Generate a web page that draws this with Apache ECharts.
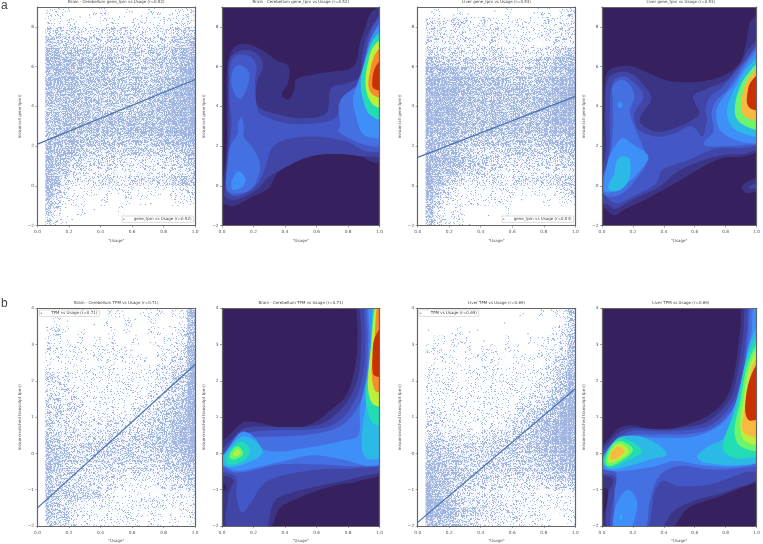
<!DOCTYPE html>
<html><head><meta charset="utf-8">
<style>html,body{margin:0;padding:0;background:#fff}#c{width:763px;height:544px}</style>
<script src="https://cdn.jsdelivr.net/npm/echarts@6/dist/echarts.min.js"></script>
</head><body><div id="c"></div>
<script>
// Fitted lines: [usage, value]
const lineBrainGene=[[0,2.1],[1,5.35]];
const lineLiverGene=[[0,1.43],[1,4.5]];
const lineBrainTpm=[[0,-1.5],[1,2.45]];
const lineLiverTpm=[[0,-1.9],[1,1.78]];

// Estimated point density per cell (0-9), top row first. The dense clouds cannot be read point by point.
const densityBrainGene=["01110001100100110112","01111010111011111122","03433222232322222344","05544443334333333456","06655544443443444567","06766655554444455578","07776666655555555689","07776666555555566789","06666665555555667789","06666665555555667889","05666665555556667889","05666666666666667789","05666666666667777889","06666665555555566778","06665544443444444456","07664433333222223345","07653322221212222234","07632222322333333455","07421111111111111122","06311100100101000111","04200100001000000000","03110000000000000000"];
const densityLiverGene=["00100100000100011012","02222221211111112112","02322212122111112122","02222222121212111222","03333322233222222345","05544443433333344567","08777665555444555678","08887776666555566788","08888776666666667889","08888776666666677899","08888766666666677889","08887766666666667888","08777665666666667778","08776655555555556666","07665443333444444455","08777654433333333344","08766544332222222223","08653322222233333344","07532111111111111123","07421111111100001011","06211100000100000000","05321100000000000000"];
const densityBrainTpm=["00000100011001110118","00100000100100100016","01210100010100110127","01110101010010101127","02111111111100011138","01111101111111011238","01111111111111122349","03221111111111122449","02221111111111123449","03222111111111223459","03322211111112234469","03432211111122345569","04332222222223445679","04333222233333455689","05433333333344455689","06544444444444455679","07654444444444445568","06543333333333334456","05443333322222223345","05444332221111122234","06555544211111111122","05433211211112221112","05442211111111111011","05432111111110110101"];
const densityLiverTpm=["00000000000000010115","00000000000000000014","00000100000000000124","00111110000100111125","01101010110110011126","00111011111011111236","01111111111111112347","01111011111111112358","01111111111111122458","01111111111111223568","01111111111112234679","02211111111123455689","02221111111234567799","02322221222344567899","03433332333444567899","05544443444555567789","06655544444444556788","07765444444444455677","07665544433333344556","08775443322222222334","08764432222222211112","09875433322222111111","09886544332221211011","08765433222121111001"];

// Sparse points that can be made out individually
const sparseBrainGene=[[.06,8.7],[.09,8.55],[.12,8.75],[.16,8.6],[.2,8.8],[.27,8.5],[.33,8.6],[.43,8.7],[.52,8.5],[.6,8.75],[.66,8.55],[.73,8.65],[.84,8.6],[.9,8.75],[.95,8.5],[.98,8.8],[.24,7.9],[.41,7.8],[.57,7.7],[.76,7.9],[.18,-1.1],[.3,-1.4],[.44,-.8],[.56,-.6],[.72,-.9],[.88,-.5],[.97,-.7],[.12,-1.8],[.22,-1.7],[.36,-1.2]];
const sparseLiverGene=[[.09,8.75],[.23,8.6],[.32,8.65],[.49,8.8],[.74,8.7],[.79,8.6],[.91,8.75],[.96,8.55],[.99,8.8],[.06,8.2],[.14,8.25],[.28,8.2],[.42,8.1],[.6,8.25],[.81,8.2],[.93,8.1],[.27,-1.2],[.38,-.9],[.52,-.8],[.66,-.7],[.8,-.8],[.92,-.6],[.98,-.4],[.2,-1.9],[.33,-1.95],[.45,-1.5]];
const sparseBrainTpm=[[.09,3.45],[.13,3.4],[.19,3.65],[.27,3.2],[.36,3.55],[.46,3.9],[.55,3.4],[.62,3.7],[.71,3.75],[.79,3.9],[.84,3.5],[.9,3.6],[.12,2.9],[.23,2.8],[.32,2.6],[.41,2.95],[.5,2.7],[.6,2.85],[.68,2.55],[.75,3.05],[.87,2.95],[.95,3.3],[.33,-1.75],[.57,-1.8],[.73,-1.65],[.84,-1.9],[.91,-1.4],[.97,-1.75]];
const sparseLiverTpm=[[.06,2.8],[.07,3.4],[.22,3.3],[.24,3.27],[.33,3.35],[.38,3.4],[.55,3.6],[.65,3.8],[.67,3.85],[.85,3.95],[.94,3.55],[.97,3.7],[.99,3.9],[.11,2.9],[.15,2.85],[.33,2.95],[.42,3.1],[.5,2.8],[.56,3],[.7,3.3],[.77,2.75],[.86,3.15],[.9,3.5],[.78,-1.8],[.87,-1.5],[.93,-1.7],[.97,-1.3]];

// Filled contours: level, then "x,y" vertices in data units
const contoursBrainGene=[
[1,"1.03,8.95 .95,8.75 .91,8 .87,7 .85,6.2 .8,5.85 .7,5.75 .58,5.6 .47,5.35 .46,4.85 .42,4.35 .38,4.6 .42,5.2 .42,6.05 .35,6.3 .27,6.75 .18,7.1 .1,7.1 .05,6.6 .03,5.5 .03,3.5 .03,2 .01,.5 -.02,-.7 .03,-.95 .08,-1 .18,-.6 .3,-.1 .35,.63 .45,1.15 .59,1.9 .79,1.9 .96,1.17 1.03,1.3"],
[2,"1.03,8.75 .93,7.7 .89,6.67 .87,5.5 .79,5.16 .69,4.9 .66,3.65 .49,3.4 .37,3.57 .23,4 .22,5.16 .26,6 .23,6.6 .135,6.84 .05,6.42 .04,5.16 .04,2.65 .02,-.04 .02,-.54 .09,-.7 .22,-.2 .3,.47 .37,.8 .56,1.47 .75,1.6 .92,1.47 1.03,1.64"],
[3,"1.03,8.6 .95,7.9 .905,6.4 .86,5.16 .76,4.4 .73,3.5 .64,3.18 .41,3.15 .25,3.57 .22,4 .21,5.33 .22,6 .18,6.5 .1,6.6 .055,6.17 .046,4.33 .06,3.3 .05,2.15 .03,.63 .025,-.2 .09,-.54 .21,-.04 .27,.8 .31,1.8 .37,2.23 .56,2.48 .79,2.23 .92,1.73 1.03,1.9"],
[4,"1.03,8.45 .945,7.4 .9,6.2 .87,5.16 .77,4.5 .74,4 .75,3.07 .74,2.73 .85,2.23 .96,1.98 1.03,2.1"],
[4,".11,6.09 .17,5.75 .17,5.25 .125,4.4 .09,4.5 .06,5.16 .07,5.84"],
[4,".125,3.45 .14,2.8 .135,2.48 .19,1.98 .24,1.14 .23,.47 .18,-.2 .08,-.4 .03,-.12 .04,1.47 .05,1.98 .1,2.65 .1,3.15"],
[5,"1.03,8.27 .95,7.5 .9,6.1 .85,4.9 .83,4.33 .85,3.5 .89,2.65 .96,2.4 1.03,2.48"],
[5,".11,.75 .15,.3 .125,-.07 .07,-.2 .06,.13 .08,.55"],
[7,"1.03,7.82 .96,7.35 .905,6.17 .88,5.25 .895,4.33 .94,3.57 1.03,3.35"],
[9,"1.03,7.4 .96,7 .926,6.17 .91,5.25 .926,4.5 .97,4.02 1.03,3.96"],
[11,"1.03,7.06 .97,6.6 .937,5.67 .93,5 .958,4.58 1.03,4.46"],
[12,"1.03,6.47 .97,5.92 .954,5.33 .962,4.91 1.03,4.83"]];
const contoursLiverGene=[
[1,"1.03,8.65 .96,8.27 .937,7.35 .895,6.25 .8,5.6 .66,5.28 .45,5.25 .32,5.6 .22,5.95 .135,6.04 .05,5.84 .02,5.33 .01,2.65 -.03,-.2 -.03,-.7 .04,-1.3 .08,-1.5 .145,-1.2 .28,-.7 .49,.2 .64,.9 .79,1.42 .92,1.47 1.03,1.97"],
[1,"1.03,.44 .94,.2 .905,-.07 .94,-.37 1.03,-.12"],
[2,"1.02,.15 .96,.02 .95,-.12 1.02,-.08"],
[2,"1.03,7.4 .95,6.9 .9,6.2 .8,5.3 .7,4.95 .59,4.5 .63,3.65 .58,3.3 .47,2.9 .346,2.73 .25,3.15 .25,3.5 .32,4.4 .26,5.16 .2,5.6 .125,5.75 .04,5.4 .02,3.65 .025,1.8 -.03,-.12 -.03,-.7 .05,-1 .08,-1.18 .22,-.6 .37,-.05 .49,.72 .66,1.3 .79,1.55 .94,1.64 1.03,2.14"],
[3,"1.03,7.2 .93,6.35 .85,5.6 .77,4.9 .7,4.5 .67,3.9 .68,3.3 .67,3 .65,2.48 .58,3 .47,2.65 .35,2.48 .23,2.9 .21,3.65 .27,4.5 .21,5.16 .145,5.5 .07,5.25 .05,3.65 .05,1.98 .01,.3 .01,-.37 .09,-.88 .2,-.54 .35,.13 .39,.8 .56,1.3 .75,1.9 .92,1.9 1.03,2.3"],
[4,"1.03,7.1 .935,6.3 .85,5.3 .8,4.75 .74,4.3 .71,3.65 .72,2.73 .66,2.2 .67,2 .77,1.98 .94,2.06 1.03,2.23"],
[4,".125,5.35 .18,5.08 .21,4.5 .18,3.74 .22,2.8 .29,1.3 .25,.63 .135,-.37 .04,-.54 -.01,-.12 .05,1.47 .07,2.8 .07,4.33 .07,5"],
[5,"1.03,6.95 .93,6.05 .85,5.05 .78,4.4 .74,3.75 .76,2.85 .85,2.35 .95,2.15 1.03,2.25"],
[5,".135,2.4 .19,2.14 .3,1.47 .24,.72 .135,-.04 .04,-.34 .01,-.2 .04,1.3 .09,2.06"],
[5,".118,4.24 .135,4.07 .118,3.9 .1,4.07"],
[6,"1.03,6.5 .93,5.85 .86,4.9 .815,4.1 .81,3.5 .85,2.9 .93,2.6 1.03,2.55"],
[6,".125,1.47 .177,1.34 .18,.47 .135,-.12 .06,-.29 .04,-.04 .08,.63 .09,1.14"],
[8,"1.03,6.2 .93,5.5 .88,4.7 .86,4 .87,3.4 .93,3 1.03,2.9"],
[10,"1.03,6 .94,5.3 .905,4.5 .9,3.9 .93,3.45 1.03,3.35"],
[12,"1.03,5.65 .96,5.2 .94,4.6 .94,4.1 .97,3.85 1.03,3.85"]];
const contoursBrainTpm=[
[1,"1.03,4.2 .87,4.2 .86,3.36 .85,2.53 .79,1.62 .68,1.16 .58,.84 .43,.68 .24,.84 .145,.87 .07,.61 -.02,.15 -.02,-.65 .03,-.95 -.02,-1.15 -.03,-2.1 .29,-2.1 .37,-1.5 .49,-1.22 .7,-.9 .87,-.76 1.03,-.44"],
[2,"1.03,4.2 .89,4.2 .884,3.27 .87,2.26 .81,1.53 .68,.93 .56,.75 .35,.73 .145,.7 .07,.43 -.02,-.03 -.02,-.53 .07,-.72 .04,-1.13 .04,-2.1 .27,-2.1 .315,-1.5 .356,-1.22 .56,-.95 .85,-.67 1.03,-.35"],
[3,"1.03,4.2 .915,4.2 .91,3.18 .895,2.17 .84,1.44 .725,.84 .56,.66 .35,.64 .167,.57 .08,.34 -.01,-.12 -.01,-.44 .09,-.67 .09,-1.13 .125,-1.63 .177,-1.4 .26,-.85 .367,-.62 .62,-.44 .87,-.4 1.03,-.21"],
[4,"1.03,4.2 .93,4.2 .926,3.18 .915,2.17 .87,1.34 .75,.75 .56,.52 .37,.47 .177,.43 .08,.25 -.01,-.26 .09,-.53 .37,-.3 .62,-.3 .87,-.35 1.03,-.2"],
[5,"1.03,4.2 .94,4.2 .937,3.18 .92,2.17 .875,1.25 .865,.5 .78,.36 .6,.2 .45,.1 .41,.06 .27,.1 .2,.47 .13,.6 .07,.35 .01,-.12 .02,-.33 .1,-.48 .3,-.3 .45,-.15 .58,-.05 .75,-.15 .88,-.3 .92,-.35 1.03,-.2"],
[6,"1.03,4.2 .965,4.2 .95,3.2 .94,2.1 .9,1 .885,.3 .9,-.05 .94,-.17 1.03,-.05"],
[6,".125,.47 .21,.34 .257,0 .156,-.26 .04,-.38 -.01,-.21 .05,.15"],
[7,"1.03,4.2 .97,4.2 .937,2.53 .91,1.62 .926,1.16 .958,.84 1.03,.8"],
[7,".125,.32 .177,.1 .145,-.17 .05,-.32 .025,-.17 .06,.15"],
[8,".1,.2 .135,0 .08,-.17 .05,-.12 .06,.06"],
[9,"1.03,4.2 .98,4.2 .947,3 .926,1.98 .937,1.53 .968,1.33 1.03,1.34"],
[9,".1,.11 .118,.02 .09,-.07 .07,-.03"],
[11,"1.03,4.2 .99,4.2 .968,3.18 .95,2.35 .958,1.9 .98,1.7 1.03,1.73"],
[12,"1.03,3.54 .968,3.18 .955,2.63 .958,2.2 .98,2.12 1.03,2.14"]];
const contoursLiverTpm=[
[1,"1.03,4.2 .915,4.2 .895,3.45 .85,2.08 .79,1.44 .68,1.03 .58,.84 .43,.68 .28,.7 .2,.78 .11,.7 .05,.43 -.02,.06 -.02,-.85 .04,-1.04 .025,-2.1 .43,-2.1 .56,-1.5 .77,-1.17 .895,-.95 1.03,-.62"],
[2,"1.03,4.2 .937,4.2 .915,3.36 .87,2.08 .82,1.44 .7,.93 .58,.75 .39,.66 .2,.7 .125,.61 .06,.38 -.02,-.03 -.02,-.53 .07,-.72 .04,-1.13 .05,-2.1 .37,-2.1 .46,-1.6 .6,-1.3 .81,-1.04 1.03,-.53"],
[3,"1.03,4.2 .958,4.2 .937,3.36 .895,2.08 .85,1.44 .725,.84 .58,.66 .39,.61 .22,.63 .135,.52 .07,.29 -.02,-.12 -.02,-.49 .09,-.67 .06,-1.59 .07,-2.1 .28,-2.1 .325,-1.5 .335,-1.13 .39,-.76 .49,-.9 .7,-.85 .915,-.53 1.03,-.4"],
[4,"1.03,4.2 .97,4.2 .947,3.27 .905,1.98 .86,1.34 .735,.75 .58,.55 .37,.52 .22,.52 .135,.43 .07,.25 -.01,-.26 .09,-.53 .08,-1.13 .1,-2.1 .27,-2.1 .31,-1.31 .37,-.62 .49,-.35 .7,-.44 .895,-.4 1.03,-.21"],
[5,"1.03,4.2 .985,4.2 .968,3.36 .926,2.17 .85,1.25 .77,.8 .6,.47 .37,.43 .23,.45 .135,.34 .07,.2 -.01,-.35 .09,-.49 .346,-.35 .47,-.21 .66,-.33 .895,-.35 1.03,-.12"],
[5,".167,-1 .22,-1.22 .224,-1.59 .177,-2.1 .08,-2.1 .08,-1.59 .114,-1.22"],
[6,"1.03,3.6 .958,3.08 .915,2.26 .85,1.16 .79,.43 .69,.2 .616,-.09 .67,-.26 .915,-.32 1.03,-.12"],
[6,".125,.47 .28,.43 .42,-.01 .314,-.17 .07,-.44 .01,-.3 .01,-.12 .06,.25"],
[6,".125,-1.68 .13,-1.78 .115,-1.82 .118,-1.72"],
[7,"1.03,3.36 .937,2.63 .873,1.34 .78,.15 .85,-.12 .937,-.12 1.03,.02"],
[7,".125,.43 .26,.06 .177,-.17 .05,-.4 .01,-.21 .05,.15"],
[8,"1.03,3.13 .947,2.53 .895,1.44 .857,.61 .895,.2 1.03,.15"],
[8,".125,.34 .2,.1 .125,-.21 .04,-.35 .025,-.17 .07,.25"],
[9,"1.03,3 .958,2.44 .91,1.34 .895,.7 .926,.34 1.03,.29"],
[9,".125,.27 .173,.06 .114,-.17 .046,-.26 .046,-.03 .08,.2"],
[10,"1.03,2.72 .968,2.35 .937,1.53 .905,.7 .937,.52 1.03,.47"],
[10,".114,.18 .145,.06 .1,-.12 .06,-.18 .055,-.03 .08,.13"],
[12,"1.03,2.58 .958,2.08 .926,1.34 .937,.98 .968,.9 1.03,1.02"]];

const levelColors=["#36215e","#3b3384","#4045a6","#4358c6","#4470e2","#3f8ff8","#2bb9e6","#22dcb4","#6cf56c","#bcef3c","#f7b93f","#f98a2c","#c93200"];
const FONT='"DejaVu Sans"', GREY='#666', TXT='#555', BLUE='#4c72b0';

const panels=[
 {left:37.5,top:7,  title:'Brain - Cerebellum gene_tpm vs Usage (r=0.52)',kind:'scatter',name:'gene_tpm vs Usage (r=0.52)',dens:densityBrainGene,pts:sparseBrainGene,line:lineBrainGene,leg:{left:122,top:216},yn:'ln(sum(all gene tpm))'},
 {left:222,top:7,   title:'Brain - Cerebellum gene_tpm vs Usage (r=0.52)',kind:'kde',cont:contoursBrainGene,yn:'ln(sum(all gene tpm))'},
 {left:417.7,top:7, title:'Liver gene_tpm vs Usage (r=0.53)',kind:'scatter',name:'gene_tpm vs Usage (r=0.53)',dens:densityLiverGene,pts:sparseLiverGene,line:lineLiverGene,leg:{left:502,top:216},yn:'ln(sum(all gene tpm))'},
 {left:602,top:7,   title:'Liver gene_tpm vs Usage (r=0.53)',kind:'kde',cont:contoursLiverGene,yn:'ln(sum(all gene tpm))'},
 {left:37.5,top:308.3,title:'Brain - Cerebellum TPM vs Usage (r=0.71)',kind:'scatter',name:'TPM vs Usage (r=0.71)',dens:densityBrainTpm,pts:sparseBrainTpm,line:lineBrainTpm,leg:{left:39.5,top:310},yn:'ln(sum(matched transcript tpm))'},
 {left:222,top:308.3,title:'Brain - Cerebellum TPM vs Usage (r=0.71)',kind:'kde',cont:contoursBrainTpm,yn:'ln(sum(matched transcript tpm))'},
 {left:417.7,top:308.3,title:'Liver TPM vs Usage (r=0.69)',kind:'scatter',name:'TPM vs Usage (r=0.69)',dens:densityLiverTpm,pts:sparseLiverTpm,line:lineLiverTpm,leg:{left:419,top:310},yn:'ln(sum(matched transcript tpm))'},
 {left:602,top:308.3,title:'Liver TPM vs Usage (r=0.69)',kind:'kde',cont:contoursLiverTpm,yn:'ln(sum(matched transcript tpm))'}
];

// Grain texture used as the fill style of the density cells (fixed, not data)
function grainAt(x,y){const s=Math.sin(x*12.9898+y*78.233)*43758.5453;return s-Math.floor(s);}
function stipple(level){
  const c=document.createElement('canvas');c.width=c.height=64;const g=c.getContext('2d');
  g.fillStyle='rgba(170,190,230,'+(level*.035)+')';g.fillRect(0,0,64,64);
  g.fillStyle='rgb(160,182,225)';
  for(let y=0;y<64;y++)for(let x=0;x<64;x++) if(grainAt(x,y)<level*.1) g.fillRect(x,y,1,1);
  return {image:c,repeat:'repeat'};
}
const stipples=[0,1,2,3,4,5,6,7,8,9].map(stipple);

const W=157.6,H=218.5;
const grid=[],xAxis=[],yAxis=[],series=[],title=[],legend=[];
function parsePoly(s){return s.split(' ').map(p=>p.split(',').map(Number));}

panels.forEach((p,i)=>{
  const isA=p.top<100, yMin=-2, yMax=isA?9:4, yInt=isA?2:1;
  grid.push({left:p.left,top:p.top,width:W,height:H,containLabel:false});
  const spine={show:true,onZero:false,lineStyle:{color:GREY,width:1.2}};
  xAxis.push({gridIndex:i,type:'value',min:0,max:1,interval:.2,position:'bottom',z:10,splitLine:{show:false},
    axisLine:spine,axisTick:{length:2,lineStyle:{color:GREY,width:.6}},
    axisLabel:{fontSize:4.3,color:TXT,fontFamily:FONT,margin:4.5,formatter:v=>v.toFixed(1)},
    name:'"Usage"',nameLocation:'middle',nameGap:13,nameTextStyle:{fontSize:4,color:TXT,fontFamily:FONT}});
  yAxis.push({gridIndex:i,type:'value',min:yMin,max:yMax,interval:yInt,position:'left',z:10,splitLine:{show:false},
    axisLine:spine,axisTick:{length:2,lineStyle:{color:GREY,width:.6}},
    axisLabel:{fontSize:4.3,color:TXT,fontFamily:FONT,margin:3.5,showMaxLabel:!isA,formatter:v=>String(v).replace('-','\u2212')},
    name:p.yn,nameLocation:'middle',nameGap:16,nameRotate:90,nameTextStyle:{fontSize:4,color:TXT,fontFamily:FONT}});
  title.push({text:p.title,left:p.left+W/2,top:isA?0:p.top-7,textAlign:'center',padding:0,
    textStyle:{fontSize:4,fontWeight:'normal',color:'#444',fontFamily:FONT}});

  if(p.kind==='kde'){
    grid[i].show=true;grid[i].backgroundColor=levelColors[0];grid[i].borderWidth=0;
    const polys=p.cont.map(c=>({level:c[0],pts:parsePoly(c[1])}));
    series.push({type:'custom',coordinateSystem:'cartesian2d',xAxisIndex:i,yAxisIndex:i,clip:true,silent:true,
      data:polys.map((q,k)=>[k]),encode:{tooltip:[]},
      renderItem:(params,api)=>{
        const q=polys[api.value(0)];
        return {type:'polygon',shape:{points:q.pts.map(v=>api.coord(v)),smooth:.35},style:{fill:levelColors[q.level]}};
      }});
  }else{
    const rows=p.dens.length, dy=(yMax-yMin)/rows, dx=1/20, cells=[];
    p.dens.forEach((r,ri)=>{[...r].forEach((d,ci)=>{if(d!=='0')cells.push([ci*dx,yMax-(ri+1)*dy,+d]);});});
    series.push({type:'custom',coordinateSystem:'cartesian2d',xAxisIndex:i,yAxisIndex:i,clip:true,silent:true,
      data:cells,
      renderItem:(params,api)=>{
        const x=api.value(0),y=api.value(1);
        const a=api.coord([x,y+dy]),b=api.coord([x+dx,y]);
        return {type:'rect',shape:{x:a[0],y:a[1],width:b[0]-a[0],height:b[1]-a[1]},style:{fill:stipples[api.value(2)]}};
      }});
    series.push({type:'scatter',name:p.name,xAxisIndex:i,yAxisIndex:i,data:p.pts,symbolSize:1.2,
      itemStyle:{color:BLUE,opacity:.8},silent:true});
    series.push({type:'line',xAxisIndex:i,yAxisIndex:i,data:p.line,showSymbol:false,silent:true,
      lineStyle:{color:BLUE,width:1.3},z:5});
    legend.push({data:[p.name],left:p.leg.left,top:p.leg.top,orient:'horizontal',icon:'circle',
      itemWidth:12,itemHeight:1.5,itemGap:0,padding:[1.2,2,1.2,1],borderColor:'#ccc',borderWidth:.7,borderRadius:.5,
      backgroundColor:'rgba(255,255,255,.85)',selectedMode:false,z:20,
      textStyle:{fontSize:4,color:'#444',fontFamily:FONT,padding:[0,0,0,-1]}});
  }
});
// top and right spines
panels.forEach((p,i)=>{
  xAxis.push({gridIndex:i,type:'value',min:0,max:1,position:'top',z:10,axisLine:{show:true,onZero:false,lineStyle:{color:GREY,width:1.2}},axisTick:{show:false},axisLabel:{show:false},splitLine:{show:false}});
  yAxis.push({gridIndex:i,type:'value',min:0,max:1,position:'right',z:10,axisLine:{show:true,onZero:false,lineStyle:{color:GREY,width:1.2}},axisTick:{show:false},axisLabel:{show:false},splitLine:{show:false}});
});
title.push({text:'a',left:1,top:0,padding:0,textStyle:{fontSize:12,fontWeight:'normal',color:'#444',fontFamily:'"Liberation Sans"'}});
title.push({text:'b',left:1,top:298,padding:0,textStyle:{fontSize:12,fontWeight:'normal',color:'#444',fontFamily:'"Liberation Sans"'}});

const chart=echarts.init(document.getElementById('c'),null,{renderer:'canvas',width:763,height:544});
chart.setOption({animation:false,backgroundColor:'#fff',grid,xAxis,yAxis,series,title,legend});
</script></body></html>
